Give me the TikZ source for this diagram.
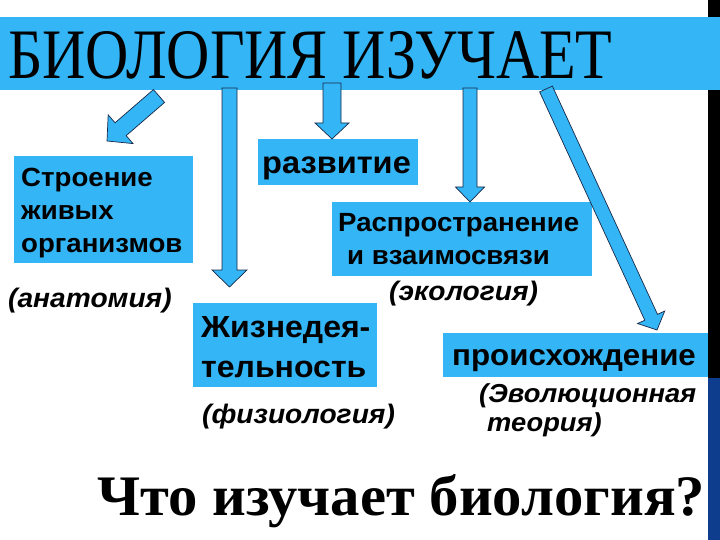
\documentclass[tikz,border=0pt]{standalone}
\usepackage{fontspec}
\usepackage{graphicx}
\usetikzlibrary{calc}
\setmainfont{Liberation Serif}
\newfontfamily\labfont[FakeStretch=1.05]{Liberation Sans}
\definecolor{lblue}{RGB}{51,181,246}
\definecolor{dblue}{RGB}{13,61,140}
\definecolor{aline}{RGB}{25,40,70}
\newcommand\blockarrow[5]{%
  \coordinate (hb) at ($(#2)!#5!(#1)$);
  \draw[arrowbox] ($(#1)!#3!90:(#2)$) -- ($(hb)!#3!-90:(#1)$) -- ($(hb)!#4!-90:(#1)$)
    -- (#2) -- ($(hb)!#4!90:(#1)$) -- ($(hb)!#3!90:(#1)$) -- ($(#1)!#3!-90:(#2)$) -- cycle;}
\begin{document}
\begin{tikzpicture}[x=1pt,y=-1pt,
  box/.style={fill=lblue, inner sep=0pt, anchor=north west},
  arrowbox/.style={fill=lblue, draw=aline, line width=0.7pt, line join=miter},
  lab/.style={inner sep=0pt, anchor=base west, font=\labfont\bfseries\fontsize{26.3pt}{28pt}\selectfont},
  ital/.style={inner sep=0pt, anchor=base west, font=\labfont\bfseries\itshape\fontsize{26.8pt}{28pt}\selectfont}]
\useasboundingbox (0,0) rectangle (720,540);
% right edge bars
\fill[black] (708,0) rectangle (720,378);
\fill[dblue] (708,378) rectangle (720,540);
% title band
\node[box, minimum width=720pt, minimum height=73pt] (band) at (0,17) {};
\node[inner sep=0pt, anchor=base west] (title) at (8,79)
  {\resizebox{604pt}{47pt}{БИОЛОГИЯ ИЗУЧАЕТ}};
% boxes
\node[box, minimum width=179pt, minimum height=107pt] (b1) at (14,156) {};
\node[box, minimum width=160pt, minimum height=46pt] (b2) at (258,139) {};
\node[box, minimum width=260pt, minimum height=74pt] (b3) at (332,202) {};
\node[box, minimum width=184pt, minimum height=84pt] (b4) at (193,303) {};
\node[box, minimum width=265pt, minimum height=44pt] (b5) at (443,333) {};
% box texts
\node[lab] (t1a) at (21,187) {Строение};
\node[lab] (t1b) at (21,220) {живых};
\node[lab] (t1c) at (21,252) {организмов};
\node[lab, font=\labfont\bfseries\fontsize{31pt}{32pt}\selectfont] (t2) at (262,174) {развитие};
\node[lab] (t3a) at (338,232) {Распространение};
\node[lab] (t3b) at (347,264) {и взаимосвязи};
\node[lab, font=\labfont\bfseries\fontsize{30.5pt}{32pt}\selectfont] (t4a) at (201,337) {Жизнедея-};
\node[lab, font=\labfont\bfseries\fontsize{30.5pt}{32pt}\selectfont] (t4b) at (201,377) {тельность};
\node[lab, font=\labfont\bfseries\fontsize{29.8pt}{32pt}\selectfont] (t5) at (452,365) {происхождение};
% italic notes
\node[ital] (n1) at (8,307) {(анатомия)};
\node[ital] (n3) at (389,300) {(экология)};
\node[ital] (n4) at (202,423) {(физиология)};
\node[ital, font=\labfont\bfseries\itshape\fontsize{26pt}{28pt}\selectfont] (n5a) at (479,402) {(Эволюционная};
\node[ital, font=\labfont\bfseries\itshape\fontsize{26pt}{28pt}\selectfont] (n5b) at (487,431) {теория)};
% bottom question
\node[inner sep=0pt, anchor=base west] (q) at (97,515)
  {\resizebox{608pt}{41pt}{\bfseries Что изучает биология?}};
% arrows
\coordinate (a1s) at (159,96);   \coordinate (a1t) at (107,141);
\coordinate (a2s) at (229.5,88); \coordinate (a2t) at (229.5,287);
\coordinate (a3s) at (332,83);   \coordinate (a3t) at (332,139);
\coordinate (a4s) at (470,88);   \coordinate (a4t) at (470,202);
\coordinate (a5s) at (546,89);   \coordinate (a5t) at (657,330);
\blockarrow{a1s}{a1t}{8.5pt}{19pt}{18pt}
\blockarrow{a2s}{a2t}{7.5pt}{17.5pt}{17pt}
\blockarrow{a3s}{a3t}{9pt}{17pt}{16pt}
\blockarrow{a4s}{a4t}{7pt}{14.5pt}{15pt}
\blockarrow{a5s}{a5t}{7pt}{15pt}{14pt}
\end{tikzpicture}
\end{document}
